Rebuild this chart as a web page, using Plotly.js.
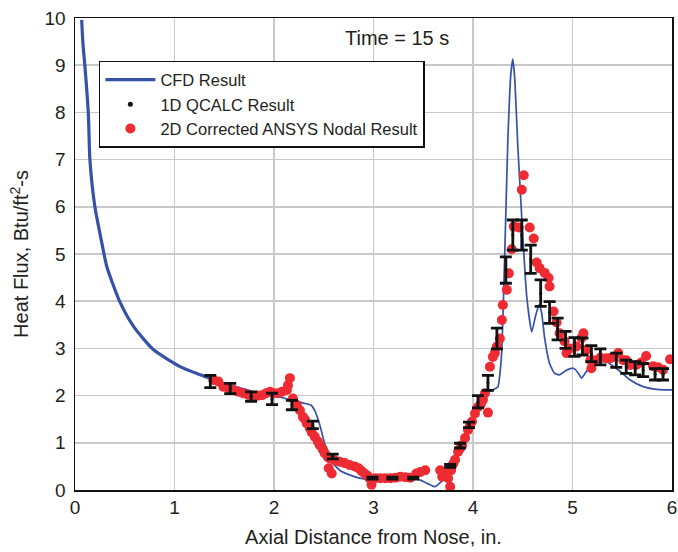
<!DOCTYPE html>
<html>
<head>
<meta charset="utf-8">
<script src="https://cdn.plot.ly/plotly-3.0.1.min.js"></script>
<style>html,body{margin:0;padding:0;background:#fff;}#chart{width:678px;height:552px;}</style>
</head>
<body>
<div id="chart"></div>
<script>
// CFD Result (blue line)
const cfdX = [0.067,0.08,0.10,0.134,0.15,0.20,0.27,0.32,0.45,0.59,0.79,1.06,1.26,1.40,1.60,1.80,2.00,2.10,2.20,2.30,2.37,2.41,2.45,2.48,2.51,2.55,2.58,2.62,2.66,2.76,2.86,2.96,3.10,3.30,3.47,3.55,3.62,3.70,3.75,3.80,3.85,3.90,3.95,4.00,4.05,4.10,4.15,4.20,4.25,4.27,4.29,4.32,4.35,4.38,4.40,4.42,4.45,4.50,4.54,4.59,4.63,4.665,4.69,4.72,4.77,4.82,4.87,4.94,5.01,5.06,5.09,5.14,5.18,5.26,5.34,5.48,5.58,5.71,5.85,5.98,6.0];
const cfdY = [9.96,9.45,8.97,7.98,6.99,6.00,5.23,4.73,3.99,3.46,2.97,2.61,2.44,2.33,2.20,2.08,2.00,1.95,1.89,1.84,1.80,1.68,1.45,1.22,0.98,0.78,0.60,0.50,0.42,0.32,0.25,0.23,0.26,0.28,0.21,0.13,0.07,0.21,0.30,0.50,0.75,1.00,1.25,1.50,1.75,1.95,2.07,2.12,2.18,2.45,2.97,5.08,7.40,8.80,9.13,8.70,7.30,5.40,4.10,3.35,3.70,3.93,3.75,3.22,2.68,2.47,2.44,2.54,2.58,2.47,2.37,2.51,2.65,2.70,2.72,2.51,2.33,2.19,2.13,2.12,2.12];

// 1D QCALC Result (black points with error bars)
const qX = [1.36,1.56,1.77,1.98,2.18,2.39,2.59,2.99,3.19,3.40,3.77,3.87,3.96,4.05,4.15,4.24,4.33,4.40,4.49,4.58,4.68,4.77,4.85,4.93,5.02,5.10,5.19,5.28,5.44,5.54,5.63,5.71,5.83,5.91];
const qY = [2.30,2.15,1.98,1.93,1.80,1.38,0.71,0.25,0.25,0.25,0.51,0.94,1.38,1.87,2.27,3.21,4.66,5.40,5.40,4.89,4.17,3.76,3.41,3.18,3.03,3.04,2.89,2.82,2.75,2.61,2.58,2.54,2.45,2.45];
const qErr = [0.13,0.11,0.10,0.12,0.10,0.08,0.05,0.02,0.02,0.02,0.03,0.05,0.06,0.13,0.16,0.22,0.28,0.32,0.32,0.30,0.28,0.23,0.23,0.18,0.20,0.18,0.17,0.17,0.15,0.14,0.14,0.14,0.12,0.12];

// 2D Corrected ANSYS Nodal Result (red dots)
const aX = [1.39,1.44,1.49,1.54,1.59,1.64,1.69,1.74,1.79,1.84,1.88,1.92,1.96,2.00,2.04,2.08,2.13,2.14,2.16,2.19,2.23,2.26,2.29,2.31,2.33,2.36,2.38,2.41,2.44,2.46,2.49,2.51,2.54,2.55,2.56,2.58,2.61,2.66,2.71,2.76,2.81,2.85,2.88,2.91,2.94,2.96,2.98,3.02,3.07,3.12,3.17,3.22,3.27,3.32,3.37,3.43,3.47,3.52,3.67,3.69,3.72,3.75,3.77,3.78,3.80,3.82,3.85,3.87,3.89,3.92,3.95,3.97,3.99,4.02,4.05,4.08,4.10,4.12,4.15,4.17,4.20,4.22,4.24,4.27,4.29,4.30,4.34,4.36,4.39,4.41,4.46,4.49,4.51,4.57,4.61,4.64,4.67,4.72,4.76,4.77,4.81,4.84,4.87,4.92,4.94,4.97,5.04,5.09,5.11,5.14,5.18,5.19,5.21,5.28,5.34,5.38,5.41,5.46,5.51,5.54,5.58,5.64,5.69,5.74,5.81,5.86,5.91,5.98];
const aY = [2.33,2.30,2.19,2.16,2.12,2.08,2.05,2.02,1.98,2.00,2.01,2.05,2.08,2.05,2.05,2.08,2.12,2.22,2.37,1.94,1.80,1.69,1.55,1.50,1.41,1.31,1.22,1.13,1.03,0.95,0.86,0.78,0.70,0.46,0.67,0.35,0.63,0.60,0.57,0.53,0.50,0.46,0.40,0.35,0.30,0.25,0.11,0.25,0.25,0.25,0.25,0.26,0.28,0.27,0.26,0.35,0.38,0.42,0.42,0.28,0.35,0.25,0.07,0.42,0.55,0.64,0.81,0.88,0.95,1.10,1.27,1.36,1.45,1.62,1.76,1.82,1.91,2.05,1.64,2.61,2.82,2.90,3.04,3.21,3.60,3.92,4.24,4.59,5.10,5.58,5.56,6.36,6.67,5.56,5.33,4.82,4.70,4.60,4.49,4.31,3.78,3.55,3.32,3.15,2.90,3.00,3.04,3.22,3.32,2.97,2.75,2.58,2.75,2.80,2.79,2.79,2.82,2.90,2.75,2.75,2.65,2.65,2.70,2.84,2.62,2.60,2.55,2.77];

const BLUE = '#3552a8';
const RED = '#ee2b33';
const INK = '#231f20';
const FONT = 'Liberation Sans, Arial, sans-serif';

const splitAt = 1.40;
const thickX = [], thickY = [], thinX = [], thinY = [];
cfdX.forEach((x, i) => {
  if (x <= splitAt) { thickX.push(x); thickY.push(cfdY[i]); }
  if (x >= splitAt) { thinX.push(x); thinY.push(cfdY[i]); }
});

const traces = [
  {x: thickX, y: thickY, type: 'scatter', mode: 'lines', name: 'CFD Result',
   line: {color: BLUE, width: 3.2, shape: 'spline', smoothing: 0.6}, legendrank: 1},
  {x: thinX, y: thinY, type: 'scatter', mode: 'lines', name: 'CFD Result', showlegend: false,
   line: {color: BLUE, width: 1.7, shape: 'spline', smoothing: 0.5}},
  {x: aX, y: aY, type: 'scatter', mode: 'markers', name: '2D Corrected ANSYS Nodal Result',
   marker: {color: RED, size: 10}, legendrank: 3},
  {x: qX, y: qY, type: 'scatter', mode: 'markers', name: '1D QCALC Result', showlegend: false,
   marker: {color: '#111', size: 3},
   error_y: {type: 'data', array: qErr, visible: true, color: '#111', thickness: 2.8, width: 6}},
  {x: [null], y: [null], type: 'scatter', mode: 'markers', name: '1D QCALC Result',
   marker: {color: '#111', size: 5}, legendrank: 2}
];

const axisBase = {
  showgrid: true, gridcolor: '#c9c9c9', gridwidth: 1.5,
  showline: true, mirror: true, linecolor: '#111', linewidth: 1.5,
  zeroline: false, ticks: '', dtick: 1,
  tickfont: {family: FONT, size: 19, color: INK}
};

const layout = {
  width: 678, height: 552,
  margin: {l: 75, r: 6, t: 18, b: 62},
  paper_bgcolor: '#fff', plot_bgcolor: '#fff',
  showlegend: true,
  legend: {x: 0.04, y: 0.909, xanchor: 'left', yanchor: 'top',
    bgcolor: '#fff', bordercolor: '#111', borderwidth: 1.5, itemwidth: 50,
    font: {family: FONT, size: 16.5, color: INK}, tracegroupgap: 0},
  xaxis: Object.assign({}, axisBase, {range: [0, 6],
    title: {text: 'Axial Distance from Nose, in.', font: {family: FONT, size: 20, color: INK}, standoff: 12}}),
  yaxis: Object.assign({}, axisBase, {range: [0, 10], ticklabelstandoff: 4,
    title: {text: 'Heat Flux, Btu/ft<sup>2</sup>-s', font: {family: FONT, size: 20, color: INK}, standoff: 10}}),
  annotations: [{x: 3.24, y: 9.58, xref: 'x', yref: 'y', text: 'Time = 15 s', showarrow: false,
    font: {family: FONT, size: 20, color: INK}}]
};

Plotly.newPlot('chart', traces, layout, {displayModeBar: false, staticPlot: true});
</script>
</body>
</html>
